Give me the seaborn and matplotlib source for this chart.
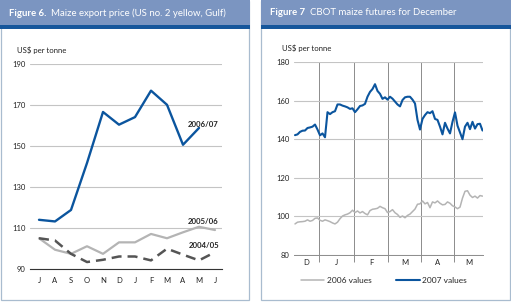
import seaborn as sns
import matplotlib.pyplot as plt
from matplotlib.patches import Rectangle
import pandas as pd
import numpy as np

# Figure 6 - monthly export prices (Jul..Jun)
months_left = ["J", "A", "S", "O", "N", "D", "J", "F", "M", "A", "M", "J"]
price_2006_07 = [114.0, 113.2, 118.8, 141.7, 166.6, 160.4, 164.1, 177.0, 170.1, 150.6, 158.8]
price_2005_06 = [105.0, 99.4, 97.4, 101.1, 97.4, 103.0, 103.0, 107.1, 105.0, 107.9, 110.6, 109.0]
price_2004_05 = [105.0, 103.9, 97.4, 93.4, 94.5, 96.1, 96.1, 94.2, 99.9, 97.0, 94.2, 98.2]
left_yticks = [90, 110, 130, 150, 170, 190]

# Figure 7 - daily CBOT December futures (mid Dec .. end May)
futures_2007 = [
    142.1, 142.5, 143.8, 144.4, 144.5, 145.8, 146.1, 146.5, 147.6, 145.0,
    142.0, 143.0, 141.0, 154.0, 153.0, 154.0, 154.5, 158.0, 158.0, 157.4,
    157.0, 156.5, 155.7, 156.0, 154.0, 155.5, 157.2, 157.5, 158.3, 162.0,
    164.5, 166.0, 168.5, 165.0, 163.5, 160.9, 161.7, 160.5, 162.0, 161.0,
    159.5, 158.0, 157.0, 160.3, 161.7, 162.0, 162.0, 160.5, 158.5, 150.0,
    145.0, 150.5, 152.5, 154.0, 153.5, 154.5, 150.5, 150.0, 146.5, 142.5,
    148.5, 145.5, 143.0, 149.0, 153.9, 147.0, 143.5, 140.0, 146.5, 148.5,
    145.2, 149.0, 145.5, 147.8, 148.0, 144.5,
]
futures_2006 = [
    96.1, 97.0, 97.2, 97.3, 97.5, 98.2, 97.5, 97.9, 99.0, 99.2,
    98.0, 97.5, 98.2, 97.8, 97.3, 96.6, 96.1, 97.0, 98.8, 100.2,
    100.8, 101.2, 101.9, 103.2, 102.0, 102.8, 101.8, 102.5, 101.5, 100.8,
    103.0, 103.7, 103.9, 104.2, 105.2, 104.5, 104.0, 102.0, 102.5, 103.5,
    101.9, 101.0, 99.5, 100.2, 99.3, 100.5, 101.2, 102.5, 103.8, 106.3,
    106.5, 108.0, 106.5, 107.2, 104.5, 107.5, 107.0, 108.0, 106.8, 106.0,
    106.2, 107.5, 106.8, 105.5, 104.9, 104.0, 104.8, 109.5, 113.0, 113.3,
    111.0, 109.8, 110.5, 109.5, 110.8, 110.5,
]
month_starts = [9.6, 23.6, 37.2, 50.4, 63.6]
months_right = ["D", "J", "F", "M", "A", "M"]
right_yticks = [80, 100, 120, 140, 160, 180]

BLUE = "#0b559e"
HEAD = "#7b95c1"
STRIPE = "#16569b"
BORDER = "#a9bccf"
TXT = "#222222"

sns.set_style("white")
plt.rcParams["font.family"] = ["Lato", "DejaVu Sans"]

W, H = 511, 302
fig = plt.figure(figsize=(W / 100, H / 100), dpi=100)


def frac(x0, y0, x1, y1):
    # pixel box (top-left origin) -> figure fraction rect
    return [x0 / W, 1 - y1 / H, (x1 - x0) / W, (y1 - y0) / H]


def add_rect(x0, y0, x1, y1, **kw):
    l, b, w, h = frac(x0, y0, x1, y1)
    fig.patches.append(Rectangle((l, b), w, h, transform=fig.transFigure, **kw))


def add_title(x, y, bold, rest):
    t = fig.text(x / W, 1 - y / H, bold, color="white", fontsize=6.9,
                 fontweight="bold", va="center", zorder=3)
    x_end = t.get_window_extent(fig.canvas.get_renderer()).x1
    fig.text((x_end + 5) / W, 1 - y / H, rest, color="white", fontsize=6.9,
             va="center", zorder=3)


# panel frames and headers
for x0, x1 in [(0.5, 249), (261, 510)]:
    add_rect(x0, 0.5, x1, 299.5, facecolor="none", edgecolor=BORDER, lw=0.9, zorder=0)
    add_rect(x0 - 0.5, 0, x1 + 0.5, 25, facecolor=HEAD, edgecolor="none")
    add_rect(x0 - 0.5, 25, x1 + 0.5, 29, facecolor=STRIPE, edgecolor="none")

add_title(9, 13, "Figure 6.", "Maize export price (US no. 2 yellow, Gulf)")
add_title(270, 12.5, "Figure 7", "CBOT maize futures for December")

fig.text(17 / W, 1 - 50 / H, "US$ per tonne", fontsize=5.6, va="center", color=TXT)
fig.text(282 / W, 1 - 48 / H, "US$ per tonne", fontsize=5.6, va="center", color=TXT)

# ---- left chart ----
ax1 = fig.add_axes(frac(30, 64, 222, 269))
ax1.patch.set_alpha(0)
xl = np.arange(len(months_left))
left = pd.DataFrame({
    "m": np.concatenate([xl[:len(price_2006_07)], xl, xl]),
    "v": price_2006_07 + price_2005_06 + price_2004_05,
    "s": ["2006/07"] * len(price_2006_07) + ["2005/06"] * 12 + ["2004/05"] * 12,
})
sns.lineplot(data=left[left.s == "2005/06"], x="m", y="v", color="#b4b4b4", lw=1.6, ax=ax1)
sns.lineplot(data=left[left.s == "2004/05"], x="m", y="v", color="#555555", lw=1.8,
             ax=ax1).lines[-1].set_dashes([4.0, 2.4])
sns.lineplot(data=left[left.s == "2006/07"], x="m", y="v", color=BLUE, lw=1.7, ax=ax1)
ax1.set_xlim(-0.5625, 11.4375)
ax1.set_ylim(90, 190)
ax1.set_xticks(xl)
ax1.set_xticklabels(months_left)
ax1.set_yticks(left_yticks)
ax1.set_xlabel("")
ax1.set_ylabel("")
ax1.yaxis.grid(True, color="#c4c4c4", lw=0.8)
for s in ["top", "right", "left"]:
    ax1.spines[s].set_visible(False)
ax1.spines["bottom"].set_color("#333333")
ax1.spines["bottom"].set_linewidth(0.8)
ax1.tick_params(axis="x", direction="in", length=5, width=0.8, color="#333333",
                pad=6, labelsize=5.5, labelcolor=TXT)
ax1.tick_params(axis="y", length=0, pad=3, labelsize=5.5, labelcolor=TXT)
for y, lab in [(159.0, "2006/07"), (111.5, "2005/06"), (99.8, "2004/05")]:
    ax1.text(11.25, y, lab, fontsize=5.6, fontweight="bold", ha="right", va="bottom", color=TXT)

# ---- right chart ----
ax2 = fig.add_axes(frac(294, 62, 483, 255))
ax2.patch.set_alpha(0)
xr = np.arange(len(futures_2007))
right = pd.DataFrame({
    "d": np.concatenate([xr, xr]),
    "v": futures_2006 + futures_2007,
    "s": ["2006 values"] * len(futures_2006) + ["2007 values"] * len(futures_2007),
})
sns.lineplot(data=right[right.s == "2006 values"], x="d", y="v", color="#b4b4b4", lw=1.1,
             label="2006 values", ax=ax2)
sns.lineplot(data=right[right.s == "2007 values"], x="d", y="v", color=BLUE, lw=1.5,
             label="2007 values", ax=ax2)
ax2.set_xlim(-0.4, 75.2)
ax2.set_ylim(80, 180)
ax2.set_yticks(right_yticks)
bounds = [-0.4] + month_starts + [75.2]
ax2.set_xticks([(a + b) / 2 for a, b in zip(bounds[:-1], bounds[1:])])
ax2.set_xticklabels(months_right)
ax2.vlines(month_starts, -0.036, 1, transform=ax2.get_xaxis_transform(),
           color="#8c8c8c", lw=0.7, clip_on=False, zorder=0.5)
ax2.set_xlabel("")
ax2.set_ylabel("")
ax2.yaxis.grid(True, color="#c4c4c4", lw=0.8)
for s in ["top", "right", "left"]:
    ax2.spines[s].set_visible(False)
ax2.spines["bottom"].set_color("#8c8c8c")
ax2.spines["bottom"].set_linewidth(0.7)
ax2.tick_params(axis="x", length=0, pad=3, labelsize=5.5, labelcolor=TXT)
ax2.tick_params(axis="y", length=0, pad=3, labelsize=5.5, labelcolor=TXT)
ax2.legend(loc="center", bbox_to_anchor=(0.476, -0.13), ncol=2, frameon=False,
           fontsize=6.0, handlelength=2.8, handletextpad=0.3, columnspacing=3.0)

fig.savefig("out.png", dpi=100)
